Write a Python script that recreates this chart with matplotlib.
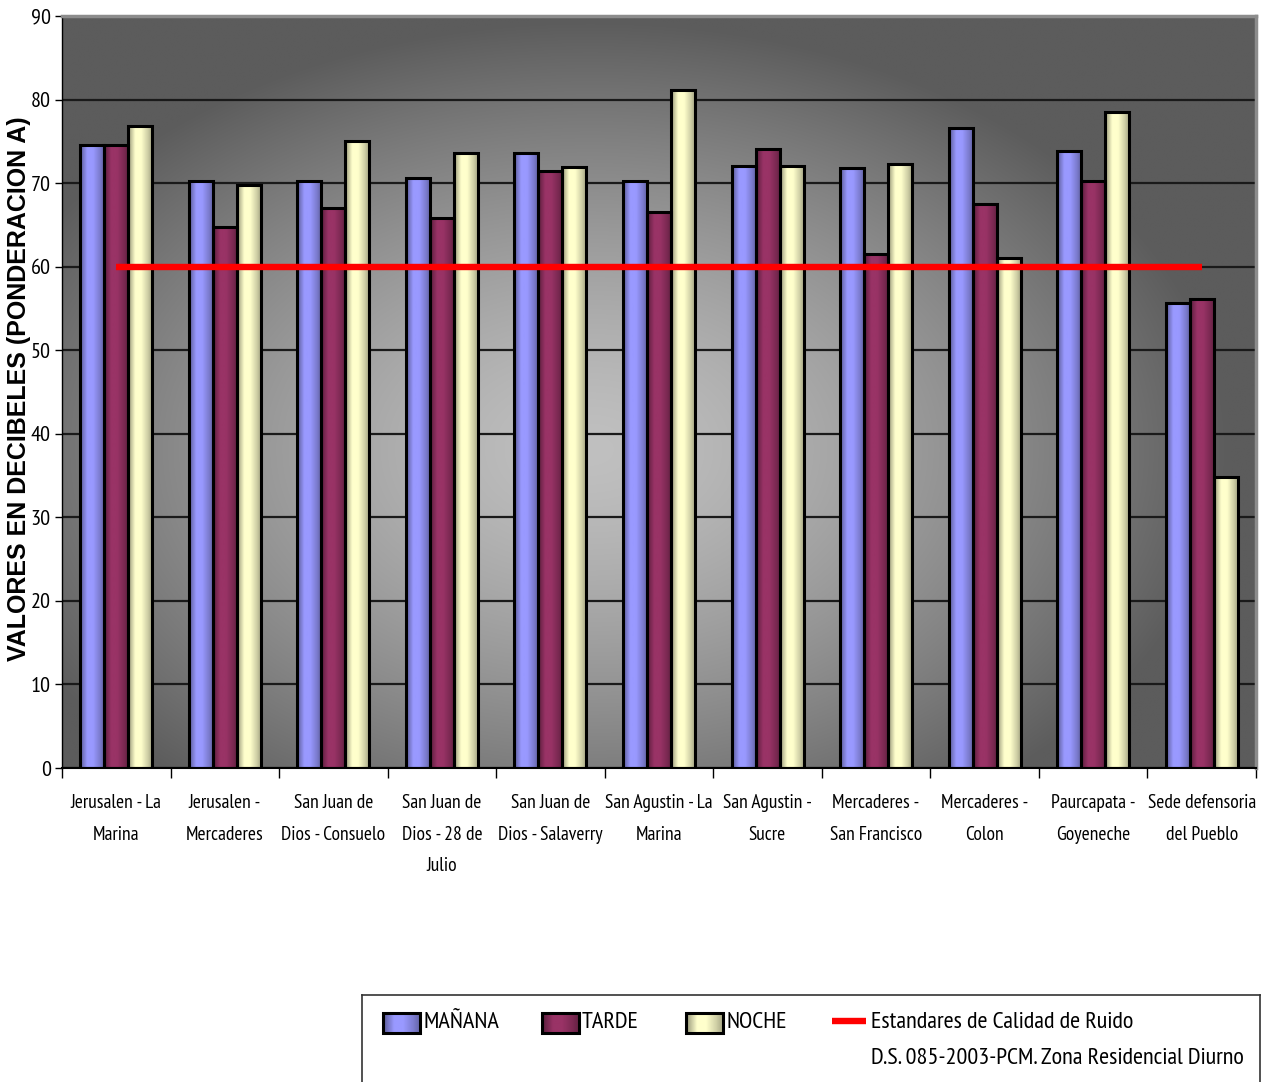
import numpy as np
import matplotlib
matplotlib.use("Agg")
import matplotlib.pyplot as plt
from matplotlib import font_manager
from matplotlib.patches import Rectangle

# ---------------- data ----------------
categorias = ["Jerusalen - La\nMarina", "Jerusalen -\nMercaderes",
              "San Juan de\nDios - Consuelo", "San Juan de\nDios - 28 de\nJulio",
              "San Juan de\nDios - Salaverry", "San Agustin - La\nMarina",
              "San Agustin -\nSucre", "Mercaderes -\nSan Francisco",
              "Mercaderes -\nColon", "Paurcapata -\nGoyeneche",
              "Sede defensoria\ndel Pueblo"]
manana = [74.6, 70.3, 70.3, 70.6, 73.6, 70.3, 72.1, 71.8, 76.6, 73.8, 55.7]
tarde = [74.6, 64.8, 67.0, 65.8, 71.4, 66.6, 74.1, 61.5, 67.5, 70.3, 56.1]
noche = [76.8, 69.8, 75.0, 73.6, 71.9, 81.2, 72.1, 72.3, 61.0, 78.5, 34.8]
estandar = [60] * 11
series_labels = ["MAÑANA", "TARDE", "NOCHE"]
estandar_label = ["Estandares de Calidad de Ruido",
                  "D.S. 085-2003-PCM. Zona Residencial Diurno"]
ylabel = "VALORES EN DECIBELES (PONDERACION A)"
yticks = list(range(0, 91, 10))

# ---------------- fonts ----------------
avail = {f.name for f in font_manager.fontManager.ttflist}
narrow_pref = ["Liberation Sans Narrow", "Arial Narrow", "PT Sans Narrow",
               "Archivo Narrow", "Roboto Condensed", "DejaVu Sans"]
NARROW = [f for f in narrow_pref if f in avail] + ["DejaVu Sans"]
NARROW = NARROW[:2]
BOLD = "Liberation Sans" if "Liberation Sans" in avail else "DejaVu Sans"

colors = [(0.6, 0.6, 1.0), (0.6, 0.2, 0.4), (1.0, 1.0, 0.8)]

W, H = 1269, 1082
fig = plt.figure(figsize=(W / 100, H / 100), dpi=100)
fig.patch.set_facecolor("white")
L, R, T, B = 62, 1256, 16, 768
ax = fig.add_axes([L / W, 1 - B / H, (R - L) / W, (B - T) / H])

# background radial gradient
nx, ny = 400, 260
px = np.linspace(0, R - L, nx)
py = np.linspace(0, B - T, ny)
X, Y = np.meshgrid(px, py)
cx, cy = 590 - L, 450 - T
r = np.sqrt(((X - cx) / 640.0) ** 2 + ((Y - cy) / 430.0) ** 2)
v = (192 - 100 * np.clip(r, 0, 1) ** 1.4) / 255.0
bg = np.dstack([v, v, v])
ax.imshow(bg, extent=[-0.5, 10.5, 0, 90], aspect="auto", zorder=0,
          interpolation="bilinear", origin="upper")

# bar shading profile
tp = np.linspace(0, 1, 64)
prof = np.interp(tp, [0, 0.07, 0.3, 0.55, 0.82, 1.0], [0.5, 0.68, 1.0, 1.0, 0.82, 0.66])


def shaded(base):
    arr = np.array(base)[None, None, :] * prof[None, :, None]
    return np.clip(arr, 0, 1)


x = np.arange(len(categorias))
bw = 0.221
for i, (vals, col) in enumerate(zip([manana, tarde, noche], colors)):
    bars = ax.bar(x + (i - 1) * bw, vals, width=bw, color=col, edgecolor="black",
                  linewidth=2.2, zorder=3)
    img = shaded(col)
    for b in bars:
        b.set_facecolor("none")
        x0, w_, h_ = b.get_x(), b.get_width(), b.get_height()
        im = ax.imshow(img, extent=[x0, x0 + w_, 0, h_], aspect="auto",
                       zorder=2.5, interpolation="bilinear")
        im.set_clip_path(b)

ax.plot(x, estandar, color="#ff0000", linewidth=4.6, solid_capstyle="butt", zorder=4)

ax.set_xlim(-0.5, 10.5)
ax.set_ylim(0, 90)
ax.set_yticks(yticks)
ax.set_yticklabels([str(t) for t in yticks], fontsize=16, family=NARROW)
ax.yaxis.grid(True, color="#1a1a1a", linewidth=1.6, zorder=1)
ax.set_axisbelow(True)
ax.tick_params(axis="y", length=5, width=1, pad=3, colors="black")

ax.set_xticks(x)
ax.set_xticklabels(categorias, fontsize=14, family=NARROW, linespacing=1.95,
                   ha="center")
ax.set_xticks(np.arange(-0.5, 11, 1), minor=True)
ax.tick_params(axis="x", which="major", length=0, pad=19)
ax.tick_params(axis="x", which="minor", length=7, width=1, color="black")

for s in ["top", "right"]:
    ax.spines[s].set_color("#8c8c8c")
    ax.spines[s].set_linewidth(2.5)
ax.spines["left"].set_color("black")
ax.spines["left"].set_linewidth(1)
ax.spines["bottom"].set_color("black")
ax.spines["bottom"].set_linewidth(1.5)

ax.set_ylabel(ylabel, fontsize=18, fontweight="bold", family=BOLD)
ax.yaxis.set_label_coords(-0.026, 0.505)

# ---------------- legend (manual) ----------------
LX0, LY0 = 362, 995
lax = fig.add_axes([LX0 / W, 0, (W - 9 - LX0) / W, (H - LY0) / H])
lax.set_xticks([])
lax.set_yticks([])
lax.patch.set_alpha(0)
lax.spines["bottom"].set_visible(False)
for s in ["top", "left", "right"]:
    lax.spines[s].set_color("#333333")
    lax.spines[s].set_linewidth(1.2)

patch_x = [383, 542, 686]
for px0, col, lab in zip(patch_x, colors, series_labels):
    ex = [px0 - LX0, px0 - LX0 + 37, 1033 - LY0, 1013 - LY0]
    rect = Rectangle((ex[0], ex[3]), 37, 20, facecolor="none", edgecolor="black",
                     linewidth=2.2, zorder=3)
    lax.add_patch(rect)
    im = lax.imshow(shaded(col), extent=ex, aspect="auto", zorder=2,
                    interpolation="bilinear")
    im.set_clip_path(rect)
    lax.text(px0 - LX0 + 40, 1023 - LY0, lab, fontsize=17.5, family=NARROW,
             va="center", ha="left")
lax.plot([832 - LX0, 866 - LX0], [1021 - LY0, 1021 - LY0], color="#ff0000",
         linewidth=4.6, solid_capstyle="butt")
lax.text(871 - LX0, 1023 - LY0, estandar_label[0], fontsize=17.5, family=NARROW,
         va="center", ha="left")
lax.text(871 - LX0, 1059 - LY0, estandar_label[1], fontsize=17.5, family=NARROW,
         va="center", ha="left")
lax.set_xlim(0, W - 9 - LX0)
lax.set_ylim(H - LY0, 0)

fig.savefig("out.png", dpi=100)
